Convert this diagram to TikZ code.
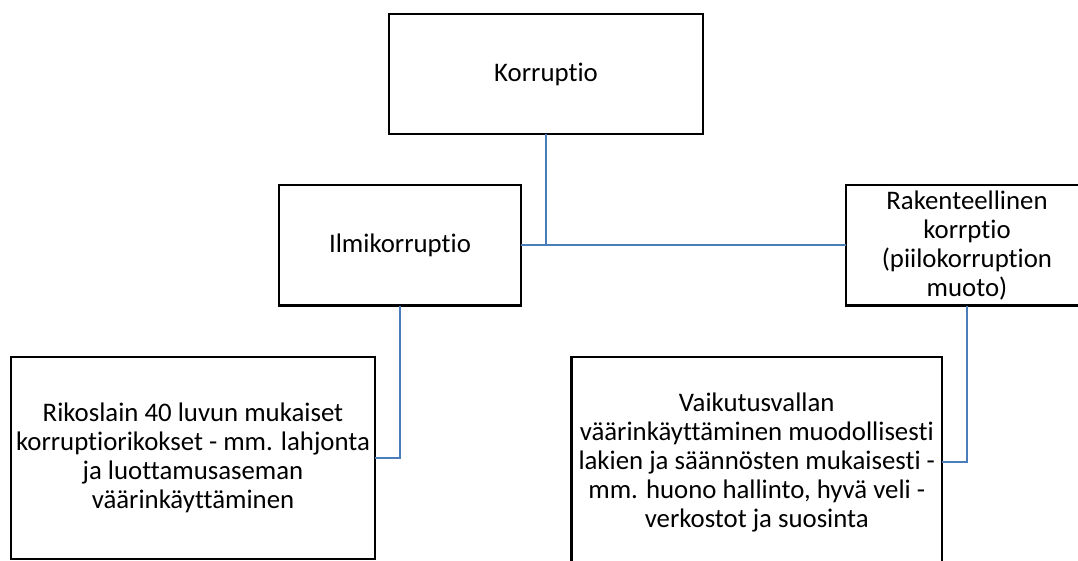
\documentclass[tikz,border=0pt]{standalone}
\usepackage{fontspec}
\setmainfont{Carlito}[Ligatures={NoCommon}]
\definecolor{connblue}{RGB}{74,126,187}
\begin{document}
\begin{tikzpicture}[x=1pt,y=-1pt,
  box/.style={draw=black, line width=2.6pt, fill=white, align=center, inner sep=0pt, outer sep=0pt,
    font=\fontsize{26.8}{29}\selectfont},
  conn/.style={draw=connblue, line width=2pt}]
\useasboundingbox (0,0) rectangle (1078,561);
\clip (0,0) rectangle (1078,561);
\node[box, minimum width=314pt, minimum height=120pt] (korr) at (546,74) {Korruptio};
\node[box, minimum width=242pt, minimum height=120.5pt] (ilmi) at (400,245.25) {Ilmikorruptio};
\node[box, minimum width=242pt, minimum height=120.5pt] (rak) at (967,245.25) {Rakenteellinen\\korrptio\\(piilokorruption\\muoto)};
\node[box, minimum width=364pt, minimum height=202pt] (rik) at (193,458) {Rikoslain 40 luvun mukaiset\\korruptiorikokset - mm. lahjonta\\ja luottamusaseman\\väärinkäyttäminen};
\node[box, minimum width=370.5pt, minimum height=210pt] (vai) at (756.75,462) {Vaikutusvallan\\väärinkäyttäminen muodollisesti\\lakien ja säännösten mukaisesti -\\mm. huono hallinto, hyvä veli -\\verkostot ja suosinta};
\draw[conn] (korr.south) -- (korr.south |- ilmi.east);
\draw[conn] (ilmi.east) -- (rak.west);
\draw[conn] (ilmi.south) |- (rik.east);
\draw[conn] (rak.south) |- (vai.east);
\end{tikzpicture}
\end{document}
